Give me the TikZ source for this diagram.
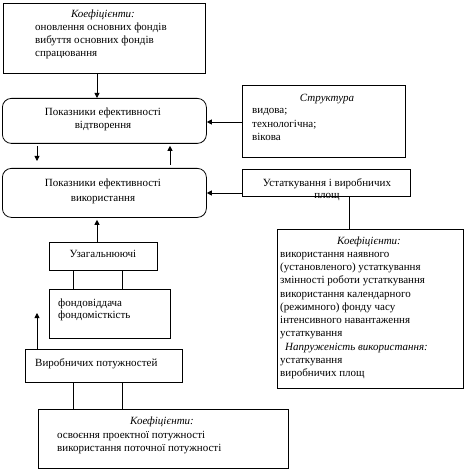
\documentclass[tikz,border=0pt]{standalone}
\usepackage{fontspec}
\setmainfont{Liberation Serif}
\usetikzlibrary{arrows.meta,calc}
\tikzset{
  box/.style={draw,line width=0.8pt,anchor=north west,inner sep=0pt,minimum width=#1},
  rbox/.style={draw,line width=0.8pt,anchor=north west,inner sep=0pt,rounded corners=9pt,minimum width=#1},
  txt/.style={inner sep=0pt,font=\fontsize{11}{13}\selectfont},
  ltxt/.style={txt,anchor=base west},
  ctxt/.style={txt,anchor=base},
  arr/.style={line width=0.8pt,-{Triangle[length=5pt,width=5pt]}},
  ln/.style={line width=0.8pt}
}
\begin{document}
\begin{tikzpicture}[x=1pt,y=-1pt]
\useasboundingbox (0,0) rectangle (470,470);
% boxes
\node[box=202, minimum height=70] (k1) at (3,3) {};
\node[rbox=204, minimum height=45] (p1) at (2,98) {};
\node[rbox=204, minimum height=49] (p2) at (2,168) {};
\node[box=163, minimum height=72] (s1) at (242,85) {};
\node[box=168, minimum height=27] (u1) at (242,169) {};
\node[box=186, minimum height=159] (k2) at (277,229) {};
\node[box=108, minimum height=28] (z1) at (49,242) {};
\node[box=121, minimum height=49] (f1) at (49,289) {};
\node[box=157, minimum height=33] (v1) at (25,349) {};
\node[box=250, minimum height=59] (k3) at (38,409) {};
% texts
\node[ctxt] (t1) at (103,18) {\itshape Коефіцієнти:};
\node[ltxt] (t2) at (35,31) {оновлення основних фондів};
\node[ltxt] (t3) at (35,44) {вибуття основних фондів};
\node[ltxt] (t4) at (35,57) {спрацювання};
\node[ctxt] (t5) at (103,116) {Показники ефективності};
\node[ctxt] (t6) at (103,129) {відтворення};
\node[ctxt] (t7) at (103,186) {Показники ефективності};
\node[ctxt] (t8) at (103,201) {використання};
\node[ctxt] (t9) at (327,102) {\itshape Структура};
\node[ltxt] (t10) at (252,114) {видова;};
\node[ltxt] (t11) at (252,128) {технологічна;};
\node[ltxt] (t12) at (252,141) {вікова};
\node[ctxt] (t13) at (327,186) {Устаткування і виробничих};
\node[ctxt] (t14) at (327,198) {площ};
\node[ctxt] (t15) at (369,244) {\itshape Коефіцієнти:};
\node[ltxt] (t16) at (280,257) {використання наявного};
\node[ltxt] (t17) at (280,270) {(установленого) устаткування};
\node[ltxt] (t18) at (280,283) {змінності роботи устаткування};
\node[ltxt] (t19) at (280,297) {використання календарного};
\node[ltxt] (t20) at (280,310) {(режимного) фонду часу};
\node[ltxt] (t21) at (280,323) {інтенсивного навантаження};
\node[ltxt] (t22) at (280,336) {устаткування};
\node[ltxt] (t23) at (285,350) {\itshape Напруженість використання:};
\node[ltxt] (t24) at (280,363) {устаткування};
\node[ltxt] (t25) at (280,376) {виробничих площ};
\node[ctxt] (t26) at (103,257) {Узагальнюючі};
\node[ltxt] (t27) at (58,306) {фондовіддача};
\node[ltxt] (t28) at (58,318) {фондомісткість};
\node[ltxt] (t29) at (35,366) {Виробничих потужностей};
\node[ctxt] (t30) at (162,424) {\itshape Коефіцієнти:};
\node[ltxt] (t31) at (57,438) {освоєння проектної потужності};
\node[ltxt] (t32) at (57,451) {використання поточної потужності};
% connectors
\draw[arr] ($(k1.south west)+(94,0)$) -- ($(p1.north west)+(95,0)$);
\draw[arr,shorten <=2pt,shorten >=7pt] ($(p1.south west)+(35,0)$) -- ($(p2.north west)+(35,0)$);
\draw[arr,shorten <=3pt,shorten >=2pt] ($(p2.north west)+(168,0)$) -- ($(p1.south west)+(168,0)$);
\draw[arr] (s1.west |- 0,122) -- (p1.east |- 0,122);
\draw[arr] (u1.west |- 0,193) -- (p2.east |- 0,193);
\draw[ln] ($(u1.south west)+(107,0)$) -- ($(k2.north west)+(72,0)$);
\draw[arr,shorten >=2pt] ($(z1.north west)+(48,0)$) -- ($(p2.south west)+(95,0)$);
\draw[ln] ($(z1.south west)+(24,0)$) -- ($(f1.north west)+(24,0)$);
\draw[ln] ($(z1.south west)+(73,0)$) -- ($(f1.north west)+(73,0)$);
\coordinate (vfree) at (37,313);
\draw[arr] ($(v1.north west)+(12,0)$) -- (vfree);
\draw[ln] ($(v1.south west)+(48,0)$) -- ($(k3.north west)+(35,0)$);
\draw[ln] ($(v1.south west)+(97,0)$) -- ($(k3.north west)+(84,0)$);
\end{tikzpicture}
\end{document}
